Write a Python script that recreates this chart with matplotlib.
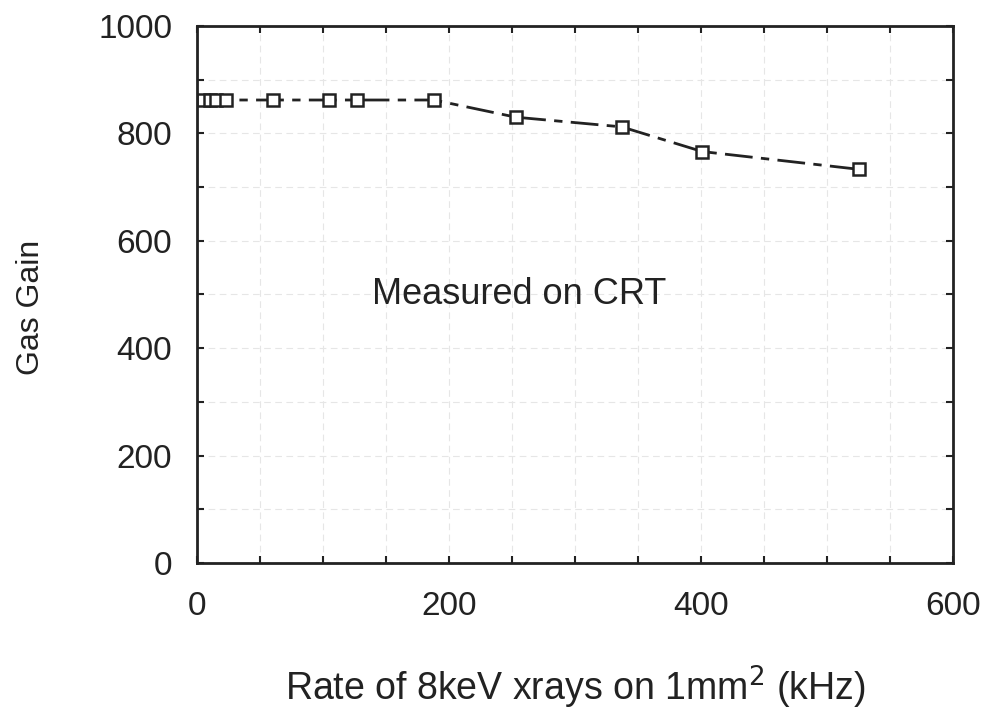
"""Gas gain vs x-ray rate, measured on CRT"""

import matplotlib
matplotlib.use("Agg")
import matplotlib.pyplot as plt
from matplotlib.ticker import MultipleLocator

# data
rate_khz = [5, 10, 15, 23, 60, 105, 127, 188, 253, 337, 401, 525]
gas_gain = [862, 862, 862, 862, 862, 862, 862, 862, 830, 812, 766, 733]

x_ticks = [0, 200, 400, 600]
y_ticks = [0, 200, 400, 600, 800, 1000]

plt.rcParams["font.family"] = ["Liberation Sans", "DejaVu Sans"]

fig = plt.figure(figsize=(9.87, 7.19), dpi=100)
ax = fig.add_axes([0.1996, 0.217, 0.766, 0.747])

ax.plot(
    rate_khz, gas_gain,
    color="#222222", linewidth=2.0, linestyle=(0, (10, 3, 3, 3)),
    marker="s", markersize=8, markerfacecolor="white",
    markeredgecolor="#222222", markeredgewidth=1.8,
)

ax.text(139, 499, "Measured on CRT", fontsize=26, va="center", ha="left", color="#222222")

ax.set_xlim(0, 600)
ax.set_ylim(0, 1000)
ax.set_xticks(x_ticks)
ax.set_yticks(y_ticks)
ax.xaxis.set_minor_locator(MultipleLocator(50))
ax.yaxis.set_minor_locator(MultipleLocator(100))

ax.grid(which="both", color="#e6e6e6", linestyle=(0, (6, 4)), linewidth=0.8)

ax.tick_params(which="both", direction="in", top=True, right=True,
               length=5, width=1.5, color="#222222")
ax.tick_params(axis="x", which="major", labelsize=24, pad=20, labelcolor="#222222")
ax.tick_params(axis="y", which="major", labelsize=24, pad=18, labelcolor="#222222")

for spine in ax.spines.values():
    spine.set_linewidth(2)
    spine.set_color("#222222")

ax.set_xlabel("Rate of 8keV xrays on 1mm$^{2}$ (kHz)", fontsize=27, labelpad=30, color="#222222")
ax.set_ylabel("Gas Gain", fontsize=23, color="#222222")
ax.yaxis.set_label_coords(-0.2, 0.475)

plt.savefig("out.png", dpi=100, facecolor="w")
